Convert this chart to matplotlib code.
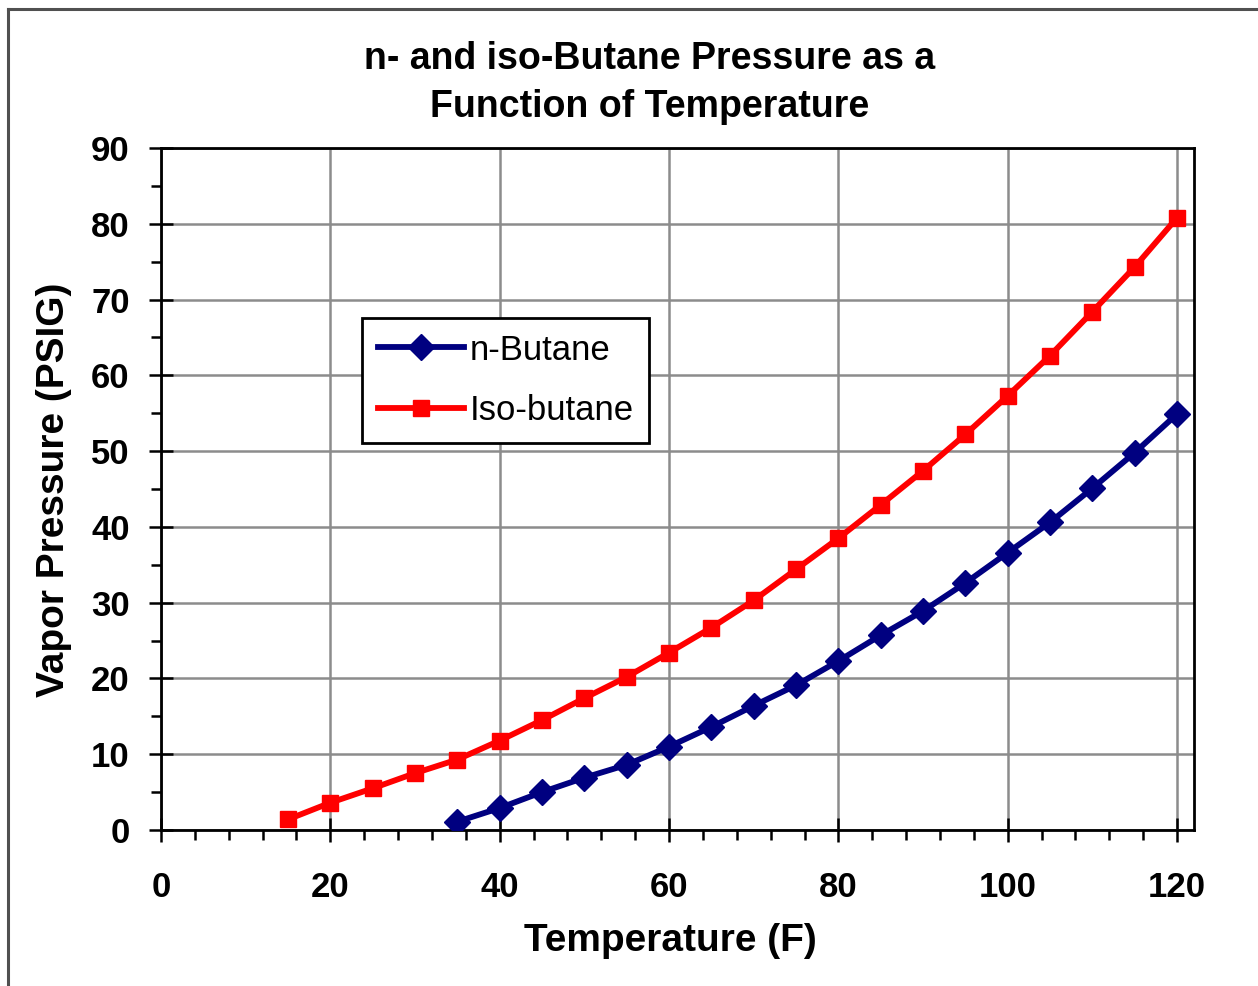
import matplotlib
matplotlib.use("Agg")
import matplotlib.pyplot as plt
from matplotlib.ticker import MultipleLocator
from matplotlib.lines import Line2D

plt.rcParams['font.family'] = ['Liberation Sans', 'DejaVu Sans']

# Data
n_temp = [35, 40, 45, 50, 55, 60, 65, 70, 75, 80, 85, 90, 95, 100, 105, 110, 115, 120]
n_press = [1.1, 2.9, 5.0, 6.9, 8.6, 11.0, 13.6, 16.4, 19.1, 22.3, 25.7, 28.9, 32.6, 36.6, 40.6, 45.1, 49.8, 54.9]
iso_temp = [15, 20, 25, 30, 35, 40, 45, 50, 55, 60, 65, 70, 75, 80, 85, 90, 95, 100, 105, 110, 115, 120]
iso_press = [1.4, 3.6, 5.5, 7.5, 9.3, 11.8, 14.5, 17.4, 20.2, 23.4, 26.7, 30.3, 34.4, 38.5, 42.9, 47.4, 52.2, 57.3, 62.6, 68.4, 74.3, 80.8]
title = "n- and iso-Butane Pressure as a\nFunction of Temperature"
x_label = "Temperature (F)"
y_label = "Vapor Pressure (PSIG)"
series_names = ["n-Butane", "Iso-butane"]

W, H = 1258, 986
fig = plt.figure(figsize=(W / 100, H / 100), dpi=100)
fig.patch.set_facecolor('white')

# figure border (top and left)
fig.add_artist(Line2D([8 / W, 1.0], [1 - 9 / H, 1 - 9 / H], transform=fig.transFigure,
                      color='#505050', lw=2.2))
fig.add_artist(Line2D([8 / W, 8 / W], [0.0, 1 - 9 / H], transform=fig.transFigure,
                      color='#505050', lw=2.2))

left, right, top, bottom = 161, 1194, 148, 830
ax = fig.add_axes([left / W, 1 - bottom / H, (right - left) / W, (bottom - top) / H])

ax.plot(n_temp, n_press, color='#000080', lw=4.2, marker='D', markersize=13.5,
        label=series_names[0], zorder=3)
ax.plot(iso_temp, iso_press, color='#FF0000', lw=4.2, marker='s', markersize=12,
        label=series_names[1], zorder=3)

ax.set_xlim(0, 122)
ax.set_ylim(0, 90)
ax.xaxis.set_major_locator(MultipleLocator(20))
ax.xaxis.set_minor_locator(MultipleLocator(4))
ax.yaxis.set_major_locator(MultipleLocator(10))
ax.yaxis.set_minor_locator(MultipleLocator(5))

ax.grid(True, which='major', color='#8c8c8c', lw=1.8)
ax.set_axisbelow(True)
for s in ax.spines.values():
    s.set_color('black')
    s.set_linewidth(2)

ax.tick_params(axis='both', which='major', direction='inout', length=17, width=1.8,
               labelsize=25, colors='black')
ax.tick_params(axis='x', which='major', pad=21)
ax.tick_params(axis='y', which='major', pad=14)
ax.tick_params(axis='both', which='minor', direction='out', length=7, width=1.8)
for lab in ax.get_xticklabels() + ax.get_yticklabels():
    lab.set_fontweight('bold')

ax.set_xlabel(x_label, fontsize=28, fontweight='bold')
ax.set_ylabel(y_label, fontsize=28, fontweight='bold')
ax.xaxis.set_label_coords((670.5 - left) / (right - left), (bottom - 941) / (bottom - top))
ax.xaxis.label.set_va('center')
ax.yaxis.set_label_coords((54 - left) / (right - left), (bottom - 490) / (bottom - top))
ax.yaxis.label.set_va('center')

fig.text(650 / W, 1 - 83 / H, title, ha='center', va='center', fontsize=27,
         fontweight='bold', linespacing=1.45)

leg = ax.legend(loc='upper left', bbox_to_anchor=((362 - left) / (right - left), (bottom - 318) / (bottom - top)),
                borderaxespad=0, fontsize=25, frameon=True, fancybox=False, framealpha=1,
                edgecolor='black', handlelength=2.5, labelspacing=0.8, borderpad=0.45,
                handletextpad=0.15)
leg.get_frame().set_linewidth(2)

fig.savefig('out.png', dpi=100, facecolor='white')
